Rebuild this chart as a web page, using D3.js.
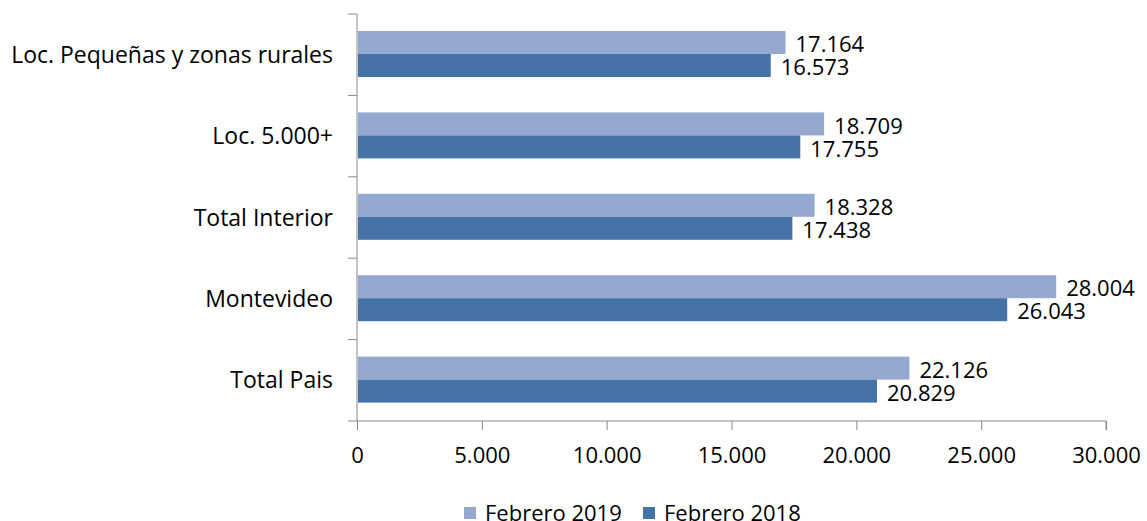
<!DOCTYPE html>
<html>
<head>
<meta charset="utf-8">
<script src="https://cdn.jsdelivr.net/npm/d3@7"></script>
<style>
  body { margin: 0; background: #fff; }
  svg text { font-family: "Open Sans", sans-serif; fill: #000; }
</style>
</head>
<body>
<svg id="chart" width="1147" height="521"></svg>
<script>
// ---------- Data ----------
const categories = ['Loc. Pequeñas y zonas rurales', 'Loc. 5.000+', 'Total Interior', 'Montevideo', 'Total Pais'];
const feb2019 = [17164, 18709, 18328, 28004, 22126];
const feb2018 = [16573, 17755, 17438, 26043, 20829];
const seriesNames = ['Febrero 2019', 'Febrero 2018'];
const seriesColors = ['#95A9D0', '#4573A7'];
const xTicks = [0, 5000, 10000, 15000, 20000, 25000, 30000];

const fmt = v => d3.format(',')(v).replace(/,/g, '.');

const svg = d3.select('#chart');
const margin = { left: 357, right: 41, top: 14, bottom: 100 };
const width = 1147, height = 521;

const x = d3.scaleLinear().domain([0, 30000]).range([margin.left, width - margin.right]);
const y = d3.scaleBand().domain(categories).range([margin.top, height - margin.bottom]);
const inner = d3.scaleBand().domain(seriesNames).range([17, y.bandwidth() - 18.4]);

// ---------- Axes ----------
const axisColor = '#888';

const xAxis = svg.append('g')
  .attr('transform', `translate(0,${height - margin.bottom})`)
  .call(d3.axisBottom(x).tickValues(xTicks).tickSize(9).tickPadding(17).tickFormat(fmt));
xAxis.select('.domain').attr('stroke', axisColor).attr('d', `M${x(0)},0H${x(30000)}V9`);
xAxis.selectAll('.tick line').attr('stroke', axisColor);
xAxis.selectAll('.tick text').attr('font-size', 22).style('font-family', '"Open Sans", sans-serif');

const yTicks = svg.append('g').attr('class', 'y-axis');
yTicks.append('line')
  .attr('x1', margin.left).attr('x2', margin.left)
  .attr('y1', margin.top).attr('y2', height - margin.bottom)
  .attr('stroke', axisColor);
d3.range(categories.length + 1).forEach(i => {
  const yy = margin.top + i * y.step();
  yTicks.append('line')
    .attr('x1', margin.left - 9).attr('x2', margin.left)
    .attr('y1', yy).attr('y2', yy)
    .attr('stroke', axisColor);
});

svg.append('g').selectAll('text')
  .data(categories)
  .join('text')
  .attr('x', 333)
  .attr('y', d => y(d) + y.bandwidth() / 2)
  .attr('dy', '0.35em')
  .attr('text-anchor', 'end')
  .attr('font-size', 23)
  .text(d => d);

// ---------- Bars ----------
const series = [feb2019, feb2018];
series.forEach((vals, si) => {
  const name = seriesNames[si];
  const g = svg.append('g');
  g.selectAll('rect')
    .data(categories)
    .join('rect')
    .attr('x', x(0) + 1)
    .attr('y', d => y(d) + inner(name))
    .attr('width', (d, i) => x(vals[i]) - x(0) - 1)
    .attr('height', inner.bandwidth())
    .attr('fill', seriesColors[si]);
  g.selectAll('text')
    .data(categories)
    .join('text')
    .attr('x', (d, i) => x(vals[i]) + 10)
    .attr('y', d => y(d) + inner(name) + inner.bandwidth() / 2 + 2)
    .attr('dy', '0.35em')
    .attr('font-size', 22)
    .text((d, i) => fmt(vals[i]));
});

// ---------- Legend ----------
const legend = svg.append('g').attr('transform', 'translate(464,513)');
const legendItems = [{ name: seriesNames[0], color: seriesColors[0], dx: 0 }, { name: seriesNames[1], color: seriesColors[1], dx: 179 }];
legendItems.forEach(it => {
  legend.append('rect').attr('x', it.dx).attr('y', -6).attr('width', 12).attr('height', 12).attr('fill', it.color);
  legend.append('text').attr('x', it.dx + 21).attr('y', 0).attr('dy', '0.35em').attr('font-size', 22).text(it.name);
});
</script>
</body>
</html>
